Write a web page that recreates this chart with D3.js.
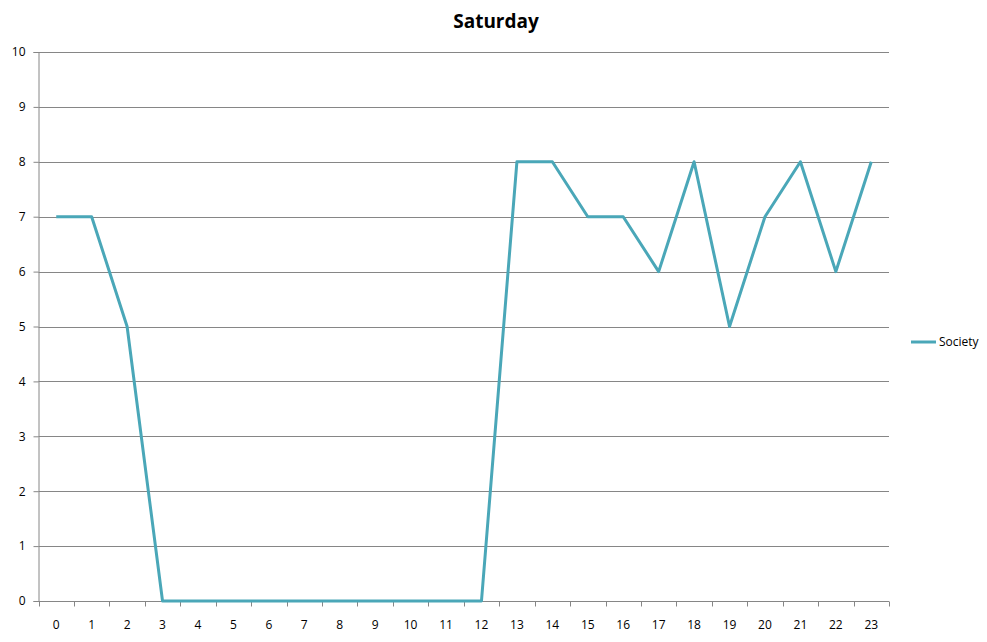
<!DOCTYPE html>
<html>
<head>
<meta charset="utf-8">
<script src="https://d3js.org/d3.v7.min.js"></script>
<style>
body { margin: 0; background: #fff; }
text { font-family: "Open Sans", "DejaVu Sans", sans-serif; }
</style>
</head>
<body>
<script>
var w = 987,
    h = 642,
    plotLeft = 38.5,
    plotRight = 889,
    plotTop = 52,
    plotBottom = 601,
    lineColor = "#4aa7b8",
    gridColor = "#868686";

// data
var hours = ["0", "1", "2", "3", "4", "5", "6", "7", "8", "9", "10", "11",
             "12", "13", "14", "15", "16", "17", "18", "19", "20", "21", "22", "23"];
var society = [7, 7, 5, 0, 0, 0, 0, 0, 0, 0, 0, 0, 0, 8, 8, 7, 7, 6, 8, 5, 7, 8, 6, 8];
var yTicks = [0, 1, 2, 3, 4, 5, 6, 7, 8, 9, 10];
var title = "Saturday";
var seriesName = "Society";

var svg = d3.select("body").append("svg")
  .attr("width", w)
  .attr("height", h);

var x = d3.scaleBand().domain(hours).range([plotLeft, plotRight]);
var y = d3.scaleLinear().domain([0, 10]).range([plotBottom, plotTop]);

// gridlines
svg.append("g")
  .selectAll("line")
  .data(yTicks.filter(function(d) { return d > 0; }))
  .enter().append("line")
  .attr("x1", plotLeft)
  .attr("x2", plotRight)
  .attr("y1", function(d) { return Math.round(y(d)) + 0.5; })
  .attr("y2", function(d) { return Math.round(y(d)) + 0.5; })
  .attr("stroke", gridColor)
  .attr("stroke-width", 1);

// y axis
var yAxis = svg.append("g")
  .attr("transform", "translate(" + plotLeft + ",0)")
  .call(d3.axisLeft(y).tickValues(yTicks).tickSize(5).tickPadding(8));
yAxis.select(".domain").attr("stroke", gridColor);
yAxis.selectAll(".tick line").attr("stroke", gridColor);
yAxis.selectAll("text").attr("font-size", 12).attr("fill", "#000").attr("font-family", "Open Sans, sans-serif");

// x axis with ticks on category boundaries
var xAxis = svg.append("g")
  .attr("transform", "translate(0," + (Math.round(plotBottom) + 0.5) + ")");
xAxis.append("line")
  .attr("x1", plotLeft).attr("x2", plotRight)
  .attr("stroke", gridColor);
xAxis.selectAll(".bt")
  .data(hours.concat(["end"]))
  .enter().append("line")
  .attr("class", "bt")
  .attr("x1", function(d, i) { return Math.round(plotLeft + i * x.bandwidth()) + 0.5; })
  .attr("x2", function(d, i) { return Math.round(plotLeft + i * x.bandwidth()) + 0.5; })
  .attr("y1", 0).attr("y2", 5)
  .attr("stroke", gridColor);
xAxis.selectAll("text")
  .data(hours)
  .enter().append("text")
  .attr("x", function(d) { return x(d) + x.bandwidth() / 2; })
  .attr("y", 27)
  .attr("text-anchor", "middle")
  .attr("font-size", 12)
  .attr("fill", "#000")
  .text(function(d) { return d; });

// series line
var line = d3.line()
  .x(function(d, i) { return x(hours[i]) + x.bandwidth() / 2; })
  .y(function(d) { return y(d); });

svg.append("path")
  .datum(society)
  .attr("d", line)
  .attr("fill", "none")
  .attr("stroke", lineColor)
  .attr("stroke-width", 3)
  .attr("stroke-linejoin", "round");

// title
svg.append("text")
  .attr("x", 496)
  .attr("y", 28)
  .attr("text-anchor", "middle")
  .attr("font-size", 19)
  .attr("font-weight", "bold")
  .text(title);

// legend
var lg = svg.append("g").attr("transform", "translate(911,342)");
lg.append("line")
  .attr("x1", 0).attr("x2", 25)
  .attr("stroke", lineColor)
  .attr("stroke-width", 3);
lg.append("text")
  .attr("x", 28)
  .attr("y", 4)
  .attr("font-size", 12)
  .text(seriesName);
</script>
</body>
</html>
